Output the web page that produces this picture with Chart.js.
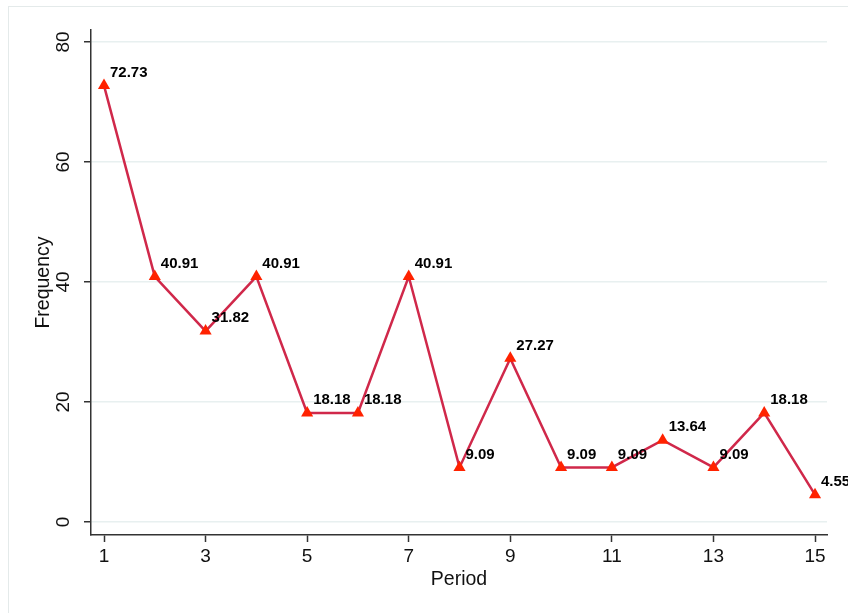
<!DOCTYPE html>
<html>
<head>
<meta charset="utf-8">
<script src="https://cdn.jsdelivr.net/npm/chart.js@4"></script>
<style>
  html, body { margin: 0; padding: 0; background: #fff; }
  #wrap { width: 848px; height: 613px; }
</style>
</head>
<body>
<div id="wrap"><canvas id="chart" width="848" height="613"></canvas></div>
<script>
const periods = [1, 2, 3, 4, 5, 6, 7, 8, 9, 10, 11, 12, 13, 14, 15];
const frequency = [72.73, 40.91, 31.82, 40.91, 18.18, 18.18, 40.91, 9.09, 27.27, 9.09, 9.09, 13.64, 9.09, 18.18, 4.55];
const xTicks = [1, 3, 5, 7, 9, 11, 13, 15];
const yTicks = [0, 20, 40, 60, 80];

const FONT = 'Liberation Sans, Arial, Helvetica, sans-serif';

// faint outer frame like the stata graph region
const framePlugin = {
  id: 'frame',
  beforeDraw(chart) {
    const ctx = chart.ctx;
    ctx.save();
    ctx.fillStyle = '#fff';
    ctx.fillRect(0, 0, chart.width, chart.height);
    ctx.strokeStyle = '#e4eaea';
    ctx.lineWidth = 1;
    ctx.strokeRect(8.5, 6.5, 900, 700);
    ctx.restore();
  }
};

// rotated y tick labels, axis titles, point value labels
const labelPlugin = {
  id: 'labels',
  afterDraw(chart) {
    const ctx = chart.ctx;
    const x = chart.scales.x;
    const y = chart.scales.y;
    ctx.save();
    ctx.fillStyle = '#111';
    ctx.font = '19px ' + FONT;
    ctx.textAlign = 'center';
    ctx.textBaseline = 'middle';
    yTicks.forEach(v => {
      ctx.save();
      ctx.translate(64, y.getPixelForValue(v));
      ctx.rotate(-Math.PI / 2);
      ctx.fillText(String(v), 0, 0);
      ctx.restore();
    });

    // axis titles
    ctx.font = '19.5px ' + FONT;
    ctx.save();
    ctx.translate(44, (y.top + y.bottom) / 2);
    ctx.rotate(-Math.PI / 2);
    ctx.fillText('Frequency', 0, 0);
    ctx.restore();
    ctx.fillText('Period', (x.left + x.right) / 2, 580);

    const meta = chart.getDatasetMeta(0);
    ctx.font = 'bold 15px ' + FONT;
    ctx.textAlign = 'left';
    ctx.fillStyle = '#000';
    meta.data.forEach((pt, i) => {
      ctx.fillText(frequency[i].toFixed(2), pt.x + 6, pt.y - 13);
    });
    ctx.restore();
  }
};

new Chart(document.getElementById('chart'), {
  type: 'line',
  data: {
    datasets: [{
      data: periods.map((p, i) => ({ x: p, y: frequency[i] })),
      borderColor: '#d0284a',
      borderWidth: 2.5,
      pointStyle: 'triangle',
      pointRadius: 7,
      pointBackgroundColor: '#ff2200',
      pointBorderColor: '#ff2200',
      pointBorderWidth: 0,
      tension: 0
    }]
  },
  options: {
    responsive: false,
    animation: false,
    layout: { padding: { left: 0, top: 30, right: 21, bottom: 0 } },
    plugins: { legend: { display: false }, tooltip: { enabled: false } },
    scales: {
      x: {
        type: 'linear',
        min: 0.744,
        max: 15.236,
        afterBuildTicks: s => { s.ticks = xTicks.map(v => ({ value: v })); },
        afterFit: s => { s.height = 78; },
        border: { color: '#333', width: 1.5 },
        grid: { drawOnChartArea: false, drawTicks: true, tickLength: 7, tickColor: '#333', tickWidth: 1.5 },
        ticks: { color: '#111', font: { family: FONT, size: 19 }, padding: 3, maxRotation: 0 }
      },
      y: {
        min: -2.17,
        max: 82,
        afterBuildTicks: s => { s.ticks = yTicks.map(v => ({ value: v })); },
        afterFit: s => { s.width = 91; },
        border: { color: '#333', width: 1.5 },
        grid: { color: '#e8f0f0', lineWidth: 1.5, drawTicks: true, tickLength: 7, tickColor: '#333', tickWidth: 1.5 },
        ticks: { display: false }
      }
    }
  },
  plugins: [framePlugin, labelPlugin]
});
</script>
</body>
</html>
